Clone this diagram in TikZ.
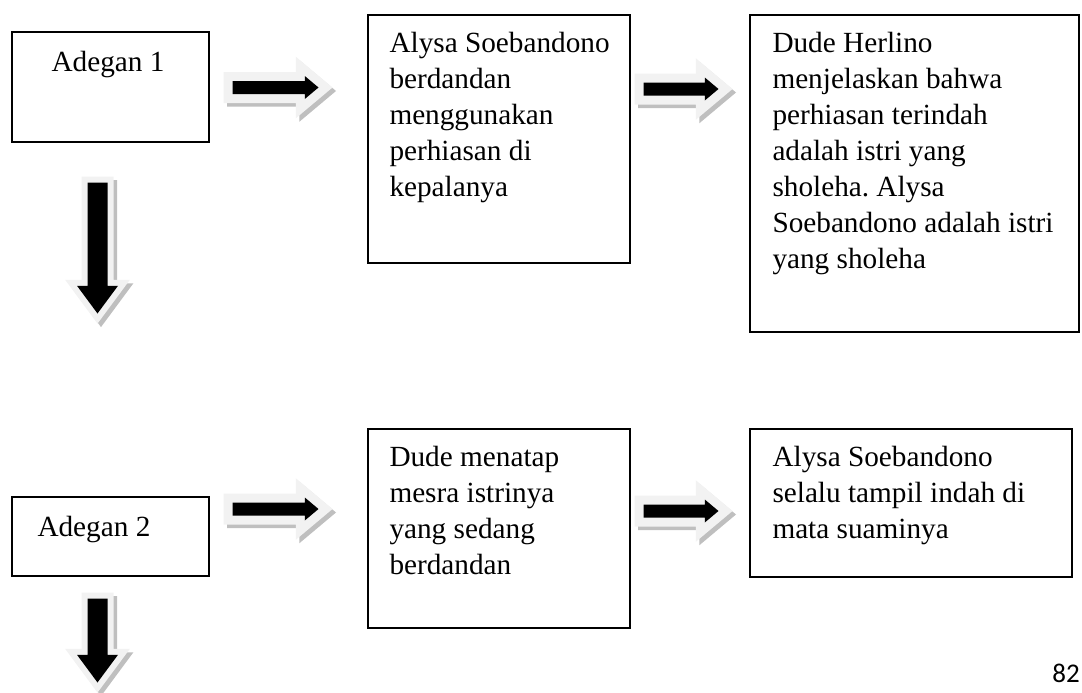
\documentclass[tikz,border=0pt]{standalone}
\usepackage{fontspec}
\setmainfont{Liberation Serif}
\newfontfamily\pagenumfont{Carlito}
\usetikzlibrary{shapes.arrows}
\definecolor{halo}{HTML}{F2F2F2}
\definecolor{haloshade}{HTML}{BFBFBF}
\newcommand{\scenefont}{\frenchspacing\fontsize{11.7pt}{14.4pt}\selectfont}
\tikzset{
  scene/.style={
    draw=black,
    line width=0.8pt,
    anchor=north west,
    inner sep=0pt,
    outer sep=0pt,
  },
  scenetext/.style={
    inner sep=0pt,
    align=left,
    font=\scenefont,
    text=black,
  },
  inset/.style={
    scenetext,
    anchor=north west,
    xshift=8.4pt,
    yshift=-6.8pt,
  },
  blockarrow/.style={
    single arrow,
    anchor=tail,
    fill=black,
    inner xsep=0pt,
    preaction={
      draw=haloshade,
      fill=haloshade,
      line width=#1,
      line join=miter,
      transform canvas={shift={(1.4pt,-1.4pt)}}
    },
    preaction={
      draw=halo,
      fill=halo,
      line width=#1,
      line join=miter
    },
  },
  harrow/.style={
    blockarrow=7.2pt,
    inner ysep=2.4pt,
    single arrow head extend=2pt,
    single arrow tip angle=80,
    minimum height=#1,
  },
  varrow/.style={
    blockarrow=4.8pt,
    rotate=-90,
    inner ysep=3.8pt,
    single arrow head extend=4.2pt,
    single arrow tip angle=73,
    minimum height=#1,
  },
}

\begin{document}
\begin{tikzpicture}[x=0.4pt, y=-0.4pt]
\useasboundingbox (0,0) rectangle (1082,693);

% === ROW 1: Adegan 1 ===

\node[scene, minimum width=78.8pt, minimum height=44pt,
  label={[scenetext, anchor=north, xshift=-1pt, yshift=-7.4pt]north:Adegan 1}]
  (adegan1) at (12,32) {};

\node[scene, minimum width=104.8pt, minimum height=99.2pt,
  label={[inset]north west:Alysa Soebandono\\berdandan\\menggunakan\\perhiasan di\\kepalanya}]
  (berdandan) at (368,15) {};

\node[scene, minimum width=131.6pt, minimum height=126.8pt,
  label={[inset, xshift=0.4pt]north west:Dude Herlino\\menjelaskan bahwa\\perhiasan terindah\\adalah istri yang\\sholeha. Alysa\\Soebandono adalah istri\\yang sholeha}]
  (herlino) at (750,15) {};

\node[harrow=34.4pt] (arrA) at (232,87.5) {};
\node[harrow=30pt] (arrB) at (643,89) {};

% down to row 2
\node[varrow=52.4pt] (downA) at (97.5,182) {};

% === ROW 2: Adegan 2 ===

\node[scene, minimum width=78.8pt, minimum height=31.6pt,
  label={[inset, xshift=1.6pt, yshift=-0.8pt]north west:Adegan 2}]
  (adegan2) at (12,497) {};

\node[scene, minimum width=104.8pt, minimum height=79.6pt,
  label={[inset]north west:Dude menatap\\mesra istrinya\\yang sedang\\berdandan}]
  (menatap) at (368,429) {};

\node[scene, minimum width=128.8pt, minimum height=59.2pt,
  label={[inset, xshift=0.4pt]north west:Alysa Soebandono\\selalu tampil indah di\\mata suaminya}]
  (tampil) at (750,429) {};

\node[harrow=34.4pt] (arrC) at (232,509) {};
\node[harrow=30pt] (arrD) at (643,511) {};

\node[varrow=33.6pt] (downB) at (97.5,598) {};

% page number
\node[font=\pagenumfont\fontsize{10.8pt}{13pt}\selectfont, inner sep=0pt]
  (pagenum) at (1066,673) {82};

\end{tikzpicture}
\end{document}
